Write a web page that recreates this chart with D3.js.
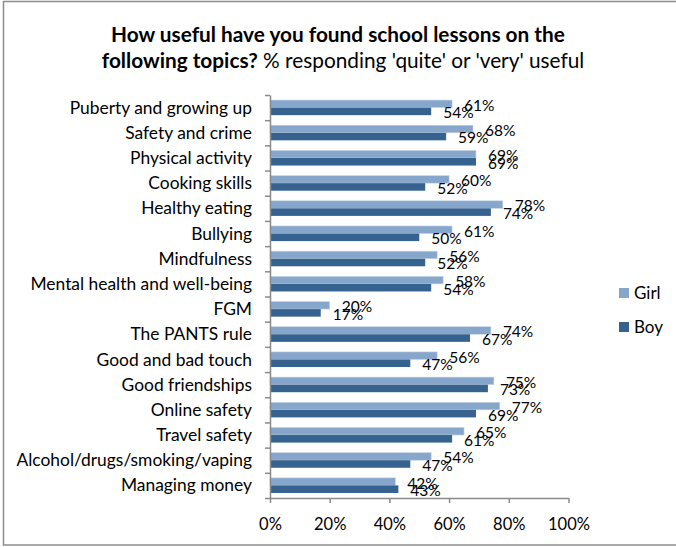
<!DOCTYPE html>
<html>
<head>
<meta charset="utf-8">
<script src="https://cdn.jsdelivr.net/npm/d3@7"></script>
<style>
  html, body { margin: 0; padding: 0; background: #fff; }
  svg { display: block; font-family: Lato, "Open Sans", sans-serif; }
</style>
</head>
<body>
<svg id="chart" width="676" height="547"></svg>
<script>
// Topics, listed top to bottom
const topics = [
  "Puberty and growing up",
  "Safety and crime",
  "Physical activity",
  "Cooking skills",
  "Healthy eating",
  "Bullying",
  "Mindfulness",
  "Mental health and well-being",
  "FGM",
  "The PANTS rule",
  "Good and bad touch",
  "Good friendships",
  "Online safety",
  "Travel safety",
  "Alcohol/drugs/smoking/vaping",
  "Managing money"
];
// % responding 'quite' or 'very' useful
const girlValues = [61, 68, 69, 60, 78, 61, 56, 58, 20, 74, 56, 75, 77, 65, 54, 42];
const boyValues  = [54, 59, 69, 52, 74, 50, 52, 54, 17, 67, 47, 73, 69, 61, 47, 43];
const seriesNames = ["Girl", "Boy"];
const seriesColors = ["#86a6cb", "#35628f"];
const xTicks = [0, 20, 40, 60, 80, 100];

const svg = d3.select("#chart");
const axisColor = "#8a8a8a";

// Outer frame
svg.append("rect")
  .attr("x", 3.5).attr("y", 1.5)
  .attr("width", 680).attr("height", 543.5)
  .attr("fill", "none").attr("stroke", "#8c8c8c").attr("stroke-width", 1.5);

// Title
const title = svg.append("g").attr("text-anchor", "middle").attr("fill", "#000");
title.append("text").attr("x", 338).attr("y", 42)
  .attr("font-size", 20.8).attr("font-weight", "bold")
  .text("How useful have you found school lessons on the");
const t2 = title.append("text").attr("x", 343).attr("y", 68).attr("font-size", 20.8);
t2.append("tspan").attr("font-weight", "bold").text("following topics?");
t2.append("tspan").text(" % responding 'quite' or 'very' useful");

// Scales
const plotLeft = 270, plotRight = 568.5, plotTop = 95, plotBottom = 498;
const x = d3.scaleLinear().domain([0, 100]).range([plotLeft, plotRight]);
const y = d3.scaleBand().domain(topics).range([plotTop, plotBottom]).paddingInner(0.4).paddingOuter(0.2);
const ySub = d3.scaleBand().domain(seriesNames).range([0, y.bandwidth()]);

const rows = topics.map((t, i) => ({ topic: t, values: [girlValues[i], boyValues[i]] }));

// Bars
const groups = svg.append("g").selectAll("g").data(rows).join("g")
  .attr("transform", d => `translate(0,${y(d.topic)})`);

groups.selectAll("rect").data(d => d.values.map((v, k) => ({ v, k }))).join("rect")
  .attr("x", x(0))
  .attr("y", d => ySub(seriesNames[d.k]))
  .attr("width", d => x(d.v) - x(0))
  .attr("height", ySub.bandwidth())
  .attr("fill", d => seriesColors[d.k])
  .attr("stroke", d => d.k === 0 ? "#c9d6e6" : "none")
  .attr("stroke-width", 0.6);

// Value labels
groups.selectAll("text").data(d => d.values.map((v, k) => ({ v, k }))).join("text")
  .attr("x", d => x(d.v) + 12)
  .attr("y", d => ySub(seriesNames[d.k]) + ySub.bandwidth() / 2 + 1.5)
  .attr("dy", "0.35em")
  .attr("font-size", 15.5)
  .attr("fill", "#000")
  .text(d => d.v + "%");

// Category axis: tick marks fall between categories
const yEdges = d3.scaleLinear().domain([0, topics.length]).range([plotTop, plotBottom]);
const yAxis = svg.append("g").attr("transform", `translate(${plotLeft},0)`)
  .call(d3.axisLeft(yEdges).tickValues(d3.range(topics.length + 1)).tickSize(5).tickSizeOuter(0).tickFormat(""));
yAxis.selectAll("path, line").attr("stroke", axisColor).attr("stroke-width", 1.5);

// Category labels
svg.append("g").selectAll("text").data(topics).join("text")
  .attr("x", 252)
  .attr("y", d => y(d) + y.bandwidth() / 2)
  .attr("dy", "0.35em")
  .attr("text-anchor", "end")
  .attr("font-size", 17.4)
  .attr("fill", "#000")
  .text(d => d);

// Value axis
const xAxis = svg.append("g").attr("transform", `translate(0,${plotBottom})`)
  .call(d3.axisBottom(x).tickValues(xTicks).tickSize(5).tickSizeOuter(0).tickPadding(15).tickFormat(d => d + "%"));
xAxis.selectAll("path, line").attr("stroke", axisColor).attr("stroke-width", 1.5);
xAxis.selectAll("text").attr("font-size", 16.5).attr("fill", "#000").attr("font-family", "Lato, 'Open Sans', sans-serif");

// Legend
const legend = svg.append("g");
seriesNames.forEach((name, k) => {
  const ly = 293 + k * 34;
  legend.append("rect").attr("x", 619).attr("y", ly - 5).attr("width", 10).attr("height", 10)
    .attr("fill", seriesColors[k]);
  legend.append("text").attr("x", 634).attr("y", ly).attr("dy", "0.35em")
    .attr("font-size", 17).attr("fill", "#000").text(name);
});
</script>
</body>
</html>
